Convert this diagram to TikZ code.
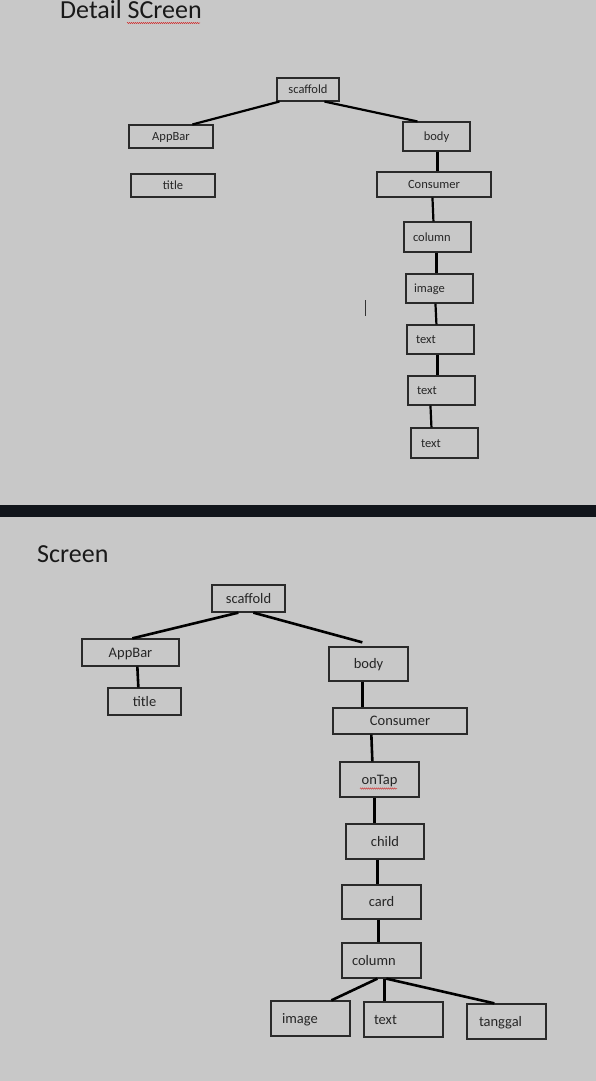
\documentclass[tikz,border=0pt]{standalone}
\usepackage{fontspec}
\newfontfamily\calfam{Carlito}
\usetikzlibrary{decorations.pathmorphing}
\definecolor{panel}{HTML}{C8C8C8}
\definecolor{band}{HTML}{11151B}
\definecolor{boxc}{HTML}{2A2A2A}
\definecolor{txtc}{HTML}{262626}
\definecolor{spell}{HTML}{D03030}
\newcommand{\tfont}{\calfam\fontsize{12.5}{14}\selectfont}
\newcommand{\bfont}{\calfam\fontsize{14.5}{16}\selectfont}
\newcommand{\ttlfont}{\calfam\fontsize{26}{30}\selectfont}
\tikzset{
  tbox/.style={draw=boxc, line width=1.1pt, inner sep=0pt, font=\tfont, text=txtc, text height=11pt, text depth=3pt},
  bbox/.style={draw=boxc, line width=1.3pt, inner sep=0pt, font=\bfont, text=txtc, text height=12.5pt, text depth=3.5pt},
  tline/.style={draw=black, line width=2.2pt},
  bline/.style={draw=black, line width=2.6pt},
  squiggle/.style={draw=spell, line width=0.5pt, decorate, decoration={snake, segment length=2pt, amplitude=0.6pt}},
  ttl/.style={anchor=base west, font=\ttlfont, text=black!90, inner sep=0pt}
}
\begin{document}
\begin{tikzpicture}[x=1pt, y=-1pt]
\useasboundingbox (0,0) rectangle (596,1081);
\fill[panel] (0,0) rectangle (596,505);
\fill[band] (0,505) rectangle (596,517);
\fill[panel] (0,517) rectangle (596,1081);

% ---------- top panel ----------
\node[ttl] (ttlA) at (60,19) {Detail SCreen};
\coordinate (sqA1) at (127,23);
\coordinate (sqA2) at (200,23);
\draw[squiggle] (sqA1) -- (sqA2);

\node[tbox, minimum width=62pt, minimum height=23pt] (tsc) at (308,89.5) {scaffold};
\node[tbox, minimum width=84pt, minimum height=23pt] (tapp) at (171,136.5) {AppBar};
\node[tbox, minimum width=84pt, minimum height=23pt] (ttitle) at (173,185.5) {title};
\node[tbox, minimum width=67pt, minimum height=29pt] (tbody) at (436.5,136.5) {body};
\node[tbox, minimum width=114pt, minimum height=25pt] (tcons) at (434,184.5) {Consumer};
\node[tbox, minimum height=30pt, inner xsep=9pt, text width=49pt, align=left] (tcol) at (437.5,237) {column};
\node[tbox, minimum height=29pt, inner xsep=8pt, text width=51pt, align=left] (timg) at (439.5,288.5) {image};
\node[tbox, minimum height=29pt, inner xsep=9pt, text width=49pt, align=left] (tt1) at (440.5,339.5) {text};
\node[tbox, minimum height=29pt, inner xsep=9pt, text width=49pt, align=left] (tt2) at (441.5,390.5) {text};
\node[tbox, minimum height=30pt, inner xsep=10pt, text width=47pt, align=left] (tt3) at (444.5,443) {text};

\draw[tline] ([xshift=3pt]tsc.south west) -- ([xshift=64pt]tapp.north west);
\draw[tline] ([xshift=48pt]tsc.south west) -- ([xshift=15pt]tbody.north west);
\draw[tline] ([xshift=35pt]tbody.south west) -- ([xshift=61pt]tcons.north west);
\draw[tline] ([xshift=56pt]tcons.south west) -- ([xshift=30pt]tcol.north west);
\draw[tline] ([xshift=33pt]tcol.south west) -- ([xshift=31pt]timg.north west);
\draw[tline] ([xshift=30pt]timg.south west) -- ([xshift=30pt]tt1.north west);
\draw[tline] ([xshift=31pt]tt1.south west) -- ([xshift=30pt]tt2.north west);
\draw[tline] ([xshift=23pt]tt2.south west) -- ([xshift=21pt]tt3.north west);

% text cursor
\coordinate (cur1) at (365,300);
\coordinate (cur2) at (365,316);
\draw[black!80, line width=1pt] (cur1) -- (cur2);

% ---------- bottom panel ----------
\node[ttl] (ttlB) at (37,562) {Screen};

\node[bbox, minimum width=73pt, minimum height=27pt] (bsc) at (248.5,598.5) {scaffold};
\node[bbox, minimum width=97pt, minimum height=27pt] (bapp) at (130.5,652.5) {AppBar};
\node[bbox, minimum width=73pt, minimum height=27pt] (btitle) at (144.5,701.5) {title};
\node[bbox, minimum width=79pt, minimum height=34pt] (bbody) at (368.5,664) {body};
\node[bbox, minimum width=134pt, minimum height=26pt] (bcons) at (400,721) {Consumer};
\node[bbox, minimum width=79pt, minimum height=35pt] (bontap) at (379.5,779.5) {onTap};
\node[bbox, minimum width=78pt, minimum height=35pt] (bchild) at (385,841.5) {child};
\node[bbox, minimum width=79pt, minimum height=34pt] (bcard) at (381.5,902) {card};
\node[bbox, minimum height=35pt, inner xsep=10pt, text width=59pt, align=left] (bcol) at (381.5,960.5) {column};
\node[bbox, minimum height=35pt, inner xsep=11pt, text width=57pt, align=left] (bimg) at (310.5,1018.5) {image};
\node[bbox, minimum height=35pt, inner xsep=10pt, text width=59pt, align=left] (btext) at (403.5,1019.5) {text};
\node[bbox, minimum height=35pt, inner xsep=12pt, text width=55pt, align=left] (btang) at (506.5,1021.5) {tanggal};

\coordinate (sqB1) at (360,788.5);
\coordinate (sqB2) at (397,788.5);
\draw[squiggle] (sqB1) -- (sqB2);

\draw[bline] ([xshift=27pt]bsc.south west) -- ([xshift=51pt]bapp.north west);
\draw[bline] ([xshift=42pt]bsc.south west) -- ([xshift=34pt, yshift=4pt]bbody.north west);
\draw[bline] ([xshift=56pt]bapp.south west) -- ([xshift=31pt]btitle.north west);
\draw[bline] ([xshift=34pt]bbody.south west) -- ([xshift=30pt]bcons.north west);
\draw[bline] ([xshift=39pt]bcons.south west) -- ([xshift=33pt]bontap.north west);
\draw[bline] ([xshift=35pt]bontap.south west) -- ([xshift=29pt]bchild.north west);
\draw[bline] ([xshift=32pt]bchild.south west) -- ([xshift=36pt]bcard.north west);
\draw[bline] ([xshift=37pt]bcard.south west) -- ([xshift=37pt]bcol.north west);
\draw[bline] ([xshift=36pt]bcol.south west) -- ([xshift=61pt]bimg.north west);
\draw[bline] ([xshift=43pt]bcol.south west) -- ([xshift=21pt]btext.north west);
\draw[bline] ([xshift=45pt]bcol.south west) -- ([xshift=28pt]btang.north west);
\end{tikzpicture}
\end{document}
